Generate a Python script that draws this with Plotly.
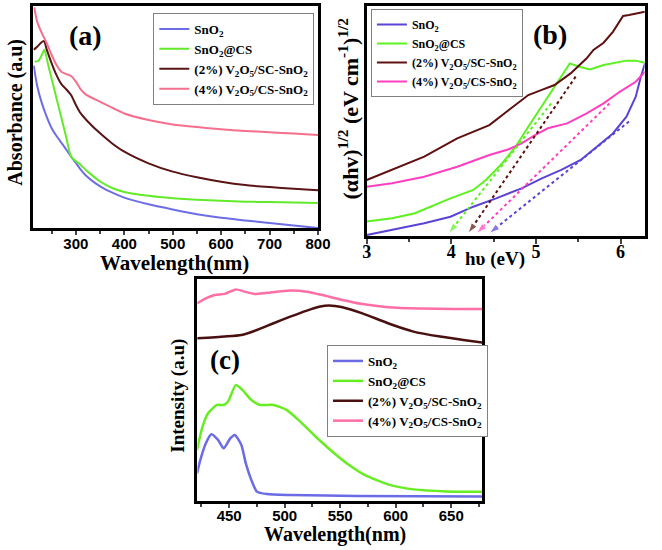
import plotly.graph_objects as go

W, H = 662, 550

# ---------------- Panel (a): UV-Vis absorbance ----------------
a_sno2_wl = [213, 220, 230, 240, 250, 260, 270, 280, 290, 300, 310, 320, 340, 360, 380, 400, 450, 500, 550, 600, 650, 700, 750, 800]
a_sno2 = [0.73, 0.64, 0.56, 0.50, 0.45, 0.415, 0.385, 0.355, 0.323, 0.295, 0.265, 0.24, 0.205, 0.178, 0.158, 0.14, 0.11, 0.087, 0.066, 0.05, 0.038, 0.027, 0.015, 0.004]

a_cs_wl = [215, 222, 228, 235, 242, 250, 260, 270, 280, 290, 300, 310, 320, 330, 350, 375, 400, 450, 500, 550, 600, 650, 700, 750, 800]
a_cs = [0.747, 0.75, 0.77, 0.80, 0.74, 0.67, 0.583, 0.497, 0.41, 0.323, 0.303, 0.286, 0.265, 0.246, 0.212, 0.183, 0.165, 0.148, 0.137, 0.13, 0.126, 0.122, 0.12, 0.118, 0.116]

a_v2_wl = [213, 220, 228, 234, 240, 250, 260, 270, 280, 290, 300, 310, 325, 350, 375, 400, 450, 500, 550, 600, 650, 700, 750, 800]
a_v2 = [0.80, 0.814, 0.832, 0.84, 0.80, 0.74, 0.687, 0.647, 0.624, 0.598, 0.554, 0.516, 0.479, 0.427, 0.382, 0.345, 0.293, 0.256, 0.231, 0.211, 0.196, 0.187, 0.18, 0.173]

a_v4_wl = [214, 220, 230, 240, 250, 260, 270, 280, 290, 300, 310, 320, 350, 400, 450, 500, 550, 600, 650, 700, 750, 800]
a_v4 = [0.99, 0.926, 0.873, 0.829, 0.777, 0.732, 0.702, 0.692, 0.683, 0.658, 0.623, 0.601, 0.568, 0.516, 0.487, 0.467, 0.455, 0.445, 0.438, 0.432, 0.426, 0.42]

# ---------------- Panel (b): Tauc plot ----------------
b_sno2_e = [3.0, 3.3, 3.68, 3.99, 4.26, 4.53, 4.83, 5.07, 5.3, 5.53, 5.72, 5.91, 6.07, 6.18, 6.24, 6.29]
b_sno2 = [0.011, 0.033, 0.062, 0.09, 0.133, 0.169, 0.212, 0.255, 0.291, 0.334, 0.391, 0.448, 0.52, 0.606, 0.692, 0.749]

b_cs_e = [3.0, 3.3, 3.57, 3.8, 3.99, 4.26, 4.41, 4.6, 4.76, 4.91, 5.07, 5.22, 5.4, 5.51, 5.64, 5.8, 6.07, 6.18, 6.29]
b_cs = [0.069, 0.083, 0.105, 0.14, 0.169, 0.205, 0.248, 0.319, 0.391, 0.477, 0.563, 0.649, 0.749, 0.735, 0.723, 0.742, 0.761, 0.761, 0.752]

b_v2_e = [3.0, 3.3, 3.68, 4.07, 4.45, 4.68, 4.91, 5.07, 5.22, 5.41, 5.6, 5.68, 5.8, 5.91, 6.03, 6.1, 6.29]
b_v2 = [0.248, 0.291, 0.348, 0.427, 0.484, 0.549, 0.613, 0.635, 0.656, 0.706, 0.771, 0.807, 0.838, 0.885, 0.953, 0.957, 0.971]

b_v4_e = [3.0, 3.3, 3.68, 4.07, 4.45, 4.68, 4.83, 4.99, 5.14, 5.37, 5.6, 5.8, 5.99, 6.18, 6.29]
b_v4 = [0.219, 0.234, 0.262, 0.305, 0.355, 0.38, 0.405, 0.441, 0.47, 0.491, 0.534, 0.577, 0.627, 0.67, 0.713]

# tangent (band-gap) extrapolation lines: SnO2, SnO2@CS, 2%, 4%
b_fit_start_e = [6.1, 5.18, 5.47, 5.87]
b_fit_start_v = [0.499, 0.577, 0.692, 0.577]
b_fit_end_e = [4.45, 3.97, 4.2, 4.3]
b_fit_end_v = [0.019, 0.019, 0.019, 0.019]

# ---------------- Panel (c): PL spectra ----------------
c_sno2_wl = [421, 424, 429, 434, 440, 445, 451, 455, 461, 465, 470, 475, 484, 505, 565, 678]
c_sno2 = [0.13, 0.189, 0.263, 0.303, 0.278, 0.241, 0.285, 0.30, 0.256, 0.174, 0.10, 0.049, 0.038, 0.034, 0.03, 0.027]

c_cs_wl = [421, 426, 431, 439, 445, 449, 456, 462, 470, 478, 490, 502, 514, 528, 543, 558, 572, 593, 616, 646, 678]
c_cs = [0.233, 0.337, 0.396, 0.433, 0.433, 0.448, 0.521, 0.499, 0.455, 0.433, 0.433, 0.41, 0.359, 0.292, 0.226, 0.167, 0.123, 0.081, 0.059, 0.05, 0.049]

c_v2_wl = [421, 446, 461, 475, 490, 505, 520, 531, 540, 552, 570, 593, 616, 640, 661, 678]
c_v2 = [0.728, 0.736, 0.743, 0.765, 0.795, 0.824, 0.851, 0.868, 0.874, 0.866, 0.839, 0.795, 0.758, 0.736, 0.721, 0.71]

c_v4_wl = [421, 429, 437, 446, 456, 464, 473, 484, 505, 520, 534, 552, 570, 593, 622, 652, 678]
c_v4 = [0.883, 0.905, 0.92, 0.925, 0.945, 0.935, 0.925, 0.93, 0.94, 0.935, 0.92, 0.898, 0.88, 0.866, 0.86, 0.858, 0.858]

names = ["SnO<sub>2</sub>", "SnO<sub>2</sub>@CS",
         "(2%) V<sub>2</sub>O<sub>5</sub>/SC-SnO<sub>2</sub>",
         "(4%) V<sub>2</sub>O<sub>5</sub>/CS-SnO<sub>2</sub>"]

col_a = ["#6D6DE6", "#63EB2B", "#5A1414", "#F4708E"]
col_b = ["#5B43D6", "#5CF21F", "#5E1010", "#FF3FBF"]
col_c = ["#6B6BE6", "#66EE22", "#4A1010", "#FF6FA6"]

SERIF = "Liberation Serif"
SANS = "Liberation Sans"

fig = go.Figure()

a_sets = [(a_sno2_wl, a_sno2), (a_cs_wl, a_cs), (a_v2_wl, a_v2), (a_v4_wl, a_v4)]
for i, (x, y) in enumerate(a_sets):
    fig.add_trace(go.Scatter(x=x, y=y, mode="lines", name=names[i],
                             line=dict(color=col_a[i], width=2, shape="spline", smoothing=0.6),
                             xaxis="x", yaxis="y", legend="legend"))

b_sets = [(b_sno2_e, b_sno2), (b_cs_e, b_cs), (b_v2_e, b_v2), (b_v4_e, b_v4)]
for i, (x, y) in enumerate(b_sets):
    fig.add_trace(go.Scatter(x=x, y=y, mode="lines", name=names[i],
                             line=dict(color=col_b[i], width=2),
                             xaxis="x2", yaxis="y2", legend="legend2"))
for i in range(4):
    fig.add_trace(go.Scatter(x=[b_fit_start_e[i], b_fit_end_e[i]],
                             y=[b_fit_start_v[i], b_fit_end_v[i]],
                             mode="lines+markers", showlegend=False,
                             line=dict(color=col_b[i], width=2, dash="dot"),
                             marker=dict(symbol="arrow", size=[0, 11], angleref="previous",
                                         color=col_b[i]),
                             xaxis="x2", yaxis="y2"))

c_sets = [(c_sno2_wl, c_sno2), (c_cs_wl, c_cs), (c_v2_wl, c_v2), (c_v4_wl, c_v4)]
for i, (x, y) in enumerate(c_sets):
    fig.add_trace(go.Scatter(x=x, y=y, mode="lines", name=names[i],
                             line=dict(color=col_c[i], width=2.5, shape="spline", smoothing=0.6),
                             xaxis="x3", yaxis="y3", legend="legend3"))


def dom_x(l, r):
    return [l / W, r / W]


def dom_y(t, b):
    return [1 - b / H, 1 - t / H]


frame = dict(showline=True, linewidth=3, linecolor="black", mirror=True,
             showgrid=False, zeroline=False)

fig.update_layout(
    width=W, height=H, autosize=False,
    margin=dict(l=0, r=0, t=0, b=0),
    paper_bgcolor="white", plot_bgcolor="white",
    xaxis=dict(domain=dom_x(30, 322), range=[212, 800.5], anchor="y",
               tick0=300, dtick=100, ticks="outside", ticklen=4, tickwidth=2,
               ticklabelstandoff=-4,
               tickfont=dict(family=SANS, size=15, color="black", weight="bold"),
               minor=dict(ticks="outside", ticklen=3, tickwidth=2, dtick=50, tick0=250),
               **frame),
    yaxis=dict(domain=dom_y(6.2, 228.3), range=[0.003, 0.995], anchor="x",
               showticklabels=False, ticks="", **frame),
    xaxis2=dict(domain=dom_x(371.5, 656.5), range=[2.998, 6.285], anchor="y2",
                tick0=3, dtick=1, ticks="outside", ticklen=5, tickwidth=2,
                ticklabelstandoff=-8,
                tickfont=dict(family=SERIF, size=18, color="black", weight="bold"),
                minor=dict(ticks="outside", ticklen=3, tickwidth=2, dtick=0.5, tick0=3),
                **frame),
    yaxis2=dict(domain=dom_y(6.2, 236), range=[0.007, 0.995], anchor="x2",
                showticklabels=False, ticks="", **frame),
    xaxis3=dict(domain=dom_x(198.2, 489.8), range=[421.4, 677.7], anchor="y3",
                tick0=450, dtick=50, ticks="outside", ticklen=4, tickwidth=2,
                ticklabelstandoff=-5,
                tickfont=dict(family=SANS, size=15, color="black", weight="bold"),
                minor=dict(ticks="outside", ticklen=3, tickwidth=2, dtick=25, tick0=425),
                **frame),
    yaxis3=dict(domain=dom_y(279, 501.2), range=[0.0066, 0.991], anchor="x3",
                showticklabels=False, ticks="", **frame),
    legend=dict(x=153 / W, y=1 - 13 / H, xanchor="left", yanchor="top",
                bgcolor="white", bordercolor="#808080", borderwidth=1,
                font=dict(family=SERIF, size=13, color="black", weight="bold")),
    legend2=dict(x=376 / W, y=1 - 9 / H, xanchor="left", yanchor="top",
                 bgcolor="white", bordercolor="#808080", borderwidth=1,
                 font=dict(family=SERIF, size=12, color="black", weight="bold")),
    legend3=dict(x=331 / W, y=1 - 345 / H, xanchor="left", yanchor="top",
                 bgcolor="white", bordercolor="#808080", borderwidth=1,
                 font=dict(family=SERIF, size=13, color="black", weight="bold")),
)


def ann(text, cx, cy, size, angle=0):
    fig.add_annotation(text=text, x=cx / W, y=1 - cy / H, xref="paper", yref="paper",
                       xanchor="center", yanchor="middle", showarrow=False,
                       textangle=angle,
                       font=dict(family=SERIF, size=size, color="black", weight="bold"))


ann("Wavelength(nm)", 175, 263, 21)
ann("Absorbance (a.u)", 12, 112, 20, -90)
ann("hυ (eV)", 503, 259, 19)
ann("(αhv)<sup>1/2</sup> (eV cm<sup>-1</sup>)<sup>1/2</sup>", 353, 108, 22, -90)
ann("Wavelength(nm)", 339, 534, 20)
ann("Intensity (a.u)", 178, 396, 19, -90)
ann("(a)", 84, 36, 28)
ann("(b)", 560, 35, 28)
ann("(c)", 226, 360, 27)

fig.write_html("out.html")
